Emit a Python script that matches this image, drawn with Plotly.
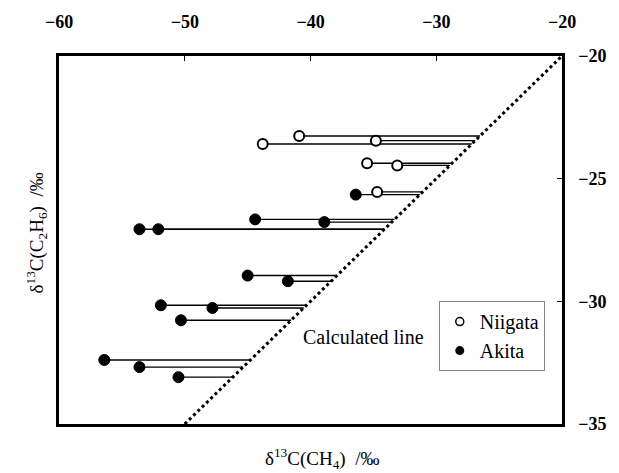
import plotly.graph_objects as go

# δ13C values (‰) of gas samples
niigata_ch4 = [-40.9, -43.8, -34.8, -35.5, -33.1, -34.7]
niigata_c2h6 = [-23.26, -23.59, -23.45, -24.37, -24.46, -25.54]

akita_ch4 = [-36.4, -44.4, -38.9, -53.6, -52.1, -45.0, -41.8, -51.9, -47.8,
             -50.3, -56.4, -53.6, -50.5]
akita_c2h6 = [-25.65, -26.66, -26.77, -27.06, -27.06, -28.95, -29.18, -30.16,
              -30.27, -30.77, -32.39, -32.68, -33.09]

# calculated relation: δ13C(C2H6) = 0.5·δ13C(CH4) - 10
calc_slope = 0.5
calc_intercept = -10.0
calc_ch4_range = [-50.0, -20.0]

x_ticks = [-60, -50, -40, -30, -20]
y_ticks = [-35, -30, -25, -20]

SERIF = "Liberation Serif"


def calc_ch4(c2h6):
    return (c2h6 - calc_intercept) / calc_slope


def connector(xs, ys):
    lx, ly = [], []
    for x, y in zip(xs, ys):
        lx += [x, calc_ch4(y), None]
        ly += [y, y, None]
    return lx, ly


fig = go.Figure()

# calculated line
fig.add_trace(go.Scatter(
    x=calc_ch4_range,
    y=[calc_slope * v + calc_intercept for v in calc_ch4_range],
    mode="lines", line=dict(color="black", width=3, dash="dot"),
    showlegend=False, hoverinfo="skip"))

# horizontal connectors from each sample to the calculated line
for xs, ys in ((niigata_ch4, niigata_c2h6), (akita_ch4, akita_c2h6)):
    lx, ly = connector(xs, ys)
    fig.add_trace(go.Scatter(x=lx, y=ly, mode="lines",
                             line=dict(color="black", width=1.4),
                             showlegend=False, hoverinfo="skip"))

fig.add_trace(go.Scatter(
    x=niigata_ch4, y=niigata_c2h6, mode="markers", showlegend=False,
    marker=dict(symbol="circle", size=10, color="white",
                line=dict(color="black", width=2))))
fig.add_trace(go.Scatter(
    x=akita_ch4, y=akita_c2h6, mode="markers", showlegend=False,
    marker=dict(symbol="circle", size=11, color="black",
                line=dict(color="black", width=1))))

# legend entries
fig.add_trace(go.Scatter(
    x=[None], y=[None], mode="markers", name="Niigata",
    marker=dict(symbol="circle", size=8, color="white",
                line=dict(color="black", width=1.5))))
fig.add_trace(go.Scatter(
    x=[None], y=[None], mode="markers", name="Akita",
    marker=dict(symbol="circle", size=9, color="black")))

fig.add_annotation(x=-35.8, y=-31.45, text="Calculated line",
                   showarrow=False, font=dict(family=SERIF, size=20, color="black"))

fig.add_annotation(xref="paper", yref="paper", x=0.523, y=-0.095,
                   yanchor="middle", showarrow=False,
                   text="δ<sup>13</sup>C(CH<sub>4</sub>)  /‰",
                   font=dict(family=SERIF, size=19, color="black"))
fig.add_annotation(xref="paper", yref="paper", x=-0.075, y=0.52,
                   textangle=-90, showarrow=False,
                   text="δ<sup>13</sup>C(C<sub>2</sub>H<sub>6</sub>)  /‰",
                   font=dict(family=SERIF, size=19, color="black"))

axis_common = dict(showgrid=False, zeroline=False, showline=True, mirror=True,
                   linecolor="black", linewidth=2.5, ticks="inside", ticklen=5,
                   tickcolor="black", tickwidth=1,
                   tickfont=dict(family=SERIF, size=18, color="black", weight="bold"))

fig.update_xaxes(range=[-60, -20], tickvals=x_ticks, side="top",
                 ticklabelstandoff=18, **axis_common)
fig.update_yaxes(range=[-35, -20], tickvals=y_ticks, side="right",
                 ticklabelstandoff=10, **axis_common)

fig.update_layout(
    width=619, height=473,
    margin=dict(l=59, r=42, t=52, b=49),
    plot_bgcolor="white", paper_bgcolor="white",
    showlegend=True,
    legend=dict(x=0.755, y=0.334, xanchor="left", yanchor="top",
                bordercolor="#888888", borderwidth=1, bgcolor="white",
                font=dict(family=SERIF, size=20, color="black"),
                itemwidth=30, tracegroupgap=0),
)

fig.write_html("out.html")
